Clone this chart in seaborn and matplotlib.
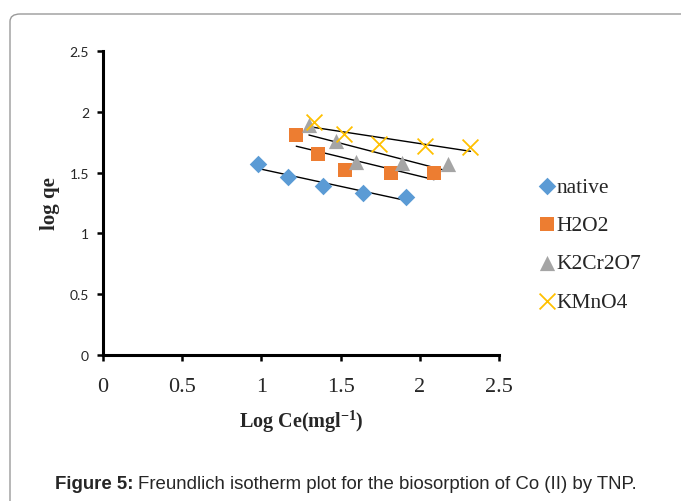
"""Freundlich isotherm plot for Co (II) biosorption by TNP."""
import numpy as np
import pandas as pd
import matplotlib
matplotlib.use("Agg")
import matplotlib.pyplot as plt
from matplotlib.patches import FancyBboxPatch
import seaborn as sns

# Data (log Ce, log qe)
native_x = [0.98, 1.17, 1.39, 1.64, 1.91]
native_y = [1.57, 1.46, 1.39, 1.33, 1.30]
h2o2_x = [1.22, 1.355, 1.53, 1.82, 2.09]
h2o2_y = [1.81, 1.65, 1.52, 1.50, 1.50]
k2cr2o7_x = [1.30, 1.47, 1.60, 1.89, 2.18]
k2cr2o7_y = [1.89, 1.76, 1.59, 1.58, 1.57]
kmno4_x = [1.33, 1.52, 1.74, 2.03, 2.32]
kmno4_y = [1.92, 1.82, 1.735, 1.72, 1.71]

series_names = ["native", "H2O2", "K2Cr2O7", "KMnO4"]
series_x = [native_x, h2o2_x, k2cr2o7_x, kmno4_x]
series_y = [native_y, h2o2_y, k2cr2o7_y, kmno4_y]

x_ticks = [0, 0.5, 1, 1.5, 2, 2.5]
y_ticks = [0, 0.5, 1, 1.5, 2, 2.5]
x_tick_labels = ["0", "0.5", "1", "1.5", "2", "2.5"]
y_tick_labels = ["0", "0.5", "1", "1.5", "2", "2.5"]

colors = {"native": "#5B9BD5", "H2O2": "#ED7D31", "K2Cr2O7": "#A5A5A5", "KMnO4": "#FFC000"}
markers = {"native": "D", "H2O2": "s", "K2Cr2O7": "^", "KMnO4": "x"}
sizes = {"native": 80, "H2O2": 115, "K2Cr2O7": 120, "KMnO4": 130}

sns.set_style("ticks")
plt.rcParams["mathtext.fontset"] = "custom"
plt.rcParams["mathtext.rm"] = "Liberation Serif"
plt.rcParams["mathtext.bf"] = "Liberation Serif:bold"

fig = plt.figure(figsize=(6.81, 5.02), dpi=100)

# rounded frame around the figure panel
frame = FancyBboxPatch((10 / 681, -0.2), 1.2, 1.2 - 15 / 502,
                       boxstyle="round,pad=0,rounding_size=0.015",
                       transform=fig.transFigure, fill=False,
                       edgecolor="#9a9a9a", linewidth=1.0)
fig.add_artist(frame)

ax = fig.add_axes([103 / 681, 1 - 356 / 502, 396 / 681, 304 / 502])

frames = []
for name, xs, ys in zip(series_names, series_x, series_y):
    frames.append(pd.DataFrame({"logCe": xs, "logqe": ys, "series": name}))
df = pd.concat(frames, ignore_index=True)

# trend lines (linear fit, truncated to data range)
for name in series_names:
    sub = df[df["series"] == name]
    sns.regplot(data=sub, x="logCe", y="logqe", scatter=False, ci=None,
                truncate=True, color="black", line_kws={"linewidth": 1.0}, ax=ax)

for name in series_names:
    sub = df[df["series"] == name]
    kw = {"linewidth": 1.3} if markers[name] == "x" else {"linewidth": 0}
    sns.scatterplot(data=sub, x="logCe", y="logqe", marker=markers[name],
                    color=colors[name], s=sizes[name], label=name, ax=ax,
                    zorder=3, **kw)

ax.set_xlim(0, 2.5)
ax.set_ylim(0, 2.5)
ax.set_xticks(x_ticks)
ax.set_yticks(y_ticks)
ax.set_xticklabels(x_tick_labels, family="Liberation Serif", fontsize=16)
ax.set_yticklabels(y_tick_labels, family="Lato", fontsize=10)
ax.tick_params(axis="both", direction="out", length=4, width=1.8, color="black")
ax.tick_params(axis="x", pad=12)
ax.tick_params(axis="y", pad=6)

for side in ["top", "right"]:
    ax.spines[side].set_visible(False)
for side in ["left", "bottom"]:
    ax.spines[side].set_linewidth(2.2)
    ax.spines[side].set_color("black")

ax.set_xlabel(r"Log Ce(mgl$^{\mathbf{-1}}$)", family="Liberation Serif",
              fontweight="bold", fontsize=14.5, labelpad=8)
ax.set_ylabel("log qe", family="Liberation Serif", fontweight="bold",
              fontsize=15, labelpad=7)

leg = ax.legend(loc="center left", bbox_to_anchor=(1.07, 0.365), frameon=False,
                prop={"family": "Liberation Serif", "size": 15.5},
                handletextpad=-0.1, labelspacing=0.85, handlelength=1.1,
                borderaxespad=0)

# caption
cap_bold = fig.text(55 / 681, 1 - 485 / 502, "Figure 5:", family="Liberation Sans",
                    fontweight="bold", fontsize=13.4, va="center", ha="left")
fig.canvas.draw()
bb = cap_bold.get_window_extent()
fig.text((bb.x1 + 4) / 681, 1 - 485 / 502,
         "Freundlich isotherm plot for the biosorption of Co (II) by TNP.",
         family="Liberation Sans", fontsize=13.4, va="center", ha="left")

fig.savefig("out.png", dpi=100)
